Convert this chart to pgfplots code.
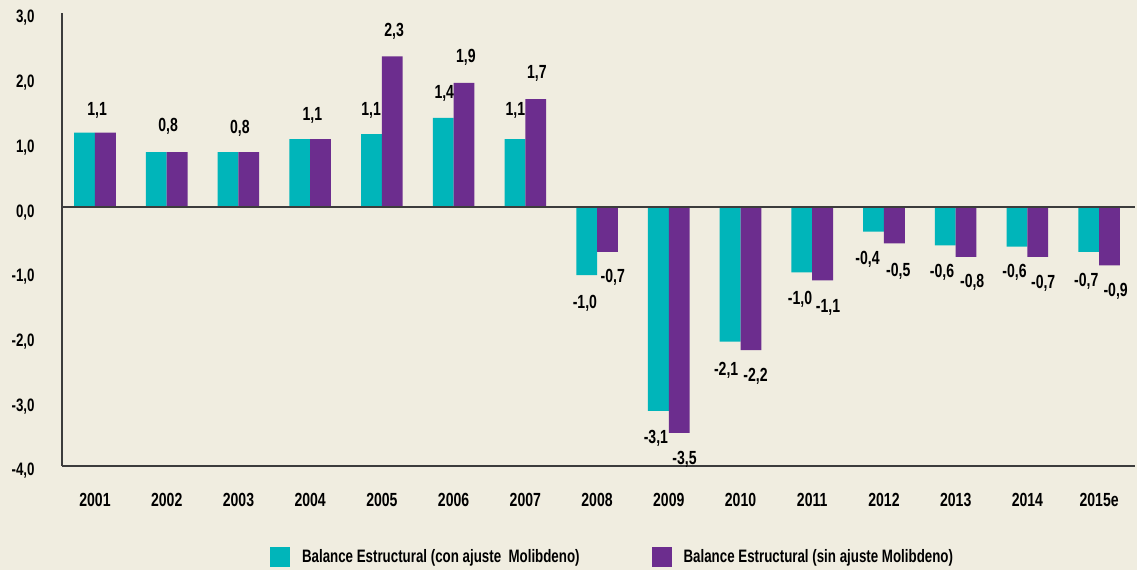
\documentclass[border=0pt]{standalone}
\usepackage{fontspec}
\setmainfont{Liberation Sans}[FakeStretch=0.74]
\usepackage{pgfplots}
\pgfplotsset{compat=1.18}
\usetikzlibrary{backgrounds,calc}
\definecolor{bgc}{RGB}{240,237,224}
\definecolor{tealc}{RGB}{0,181,186}
\definecolor{purc}{RGB}{108,45,142}
\definecolor{axc}{RGB}{60,60,60}

\pgfplotstableread{
x y
0 1.15
1 0.85
2 0.85
3 1.05
4 1.13
5 1.38
6 1.05
7 -1.05
8 -3.15
9 -2.08
10 -1.01
11 -0.38
12 -0.59
13 -0.61
14 -0.69
}\conajuste

\pgfplotstableread{
x y
0 1.15
1 0.85
2 0.85
3 1.05
4 2.33
5 1.92
6 1.67
7 -0.69
8 -3.49
9 -2.21
10 -1.13
11 -0.56
12 -0.77
13 -0.77
14 -0.90
}\sinajuste

% label positions (centre of each value label)
\pgfplotstableread{
x y label
0.03 1.50 {1,1}
1.02 1.25 {0,8}
2.02 1.22 {0,8}
3.03 1.42 {1,1}
3.85 1.50 {1,1}
4.17 2.72 {2,3}
4.87 1.76 {1,4}
5.17 2.32 {1,9}
5.86 1.50 {1,1}
6.16 2.07 {1,7}
6.83 -1.49 {-1,0}
7.22 -1.08 {-0,7}
7.82 -3.58 {-3,1}
8.22 -3.90 {-3,5}
8.80 -2.52 {-2,1}
9.21 -2.62 {-2,2}
9.83 -1.42 {-1,0}
10.22 -1.55 {-1,1}
10.77 -0.80 {-0,4}
11.20 -0.99 {-0,5}
11.81 -1.00 {-0,6}
12.23 -1.16 {-0,8}
12.82 -1.00 {-0,6}
13.22 -1.18 {-0,7}
13.82 -1.15 {-0,7}
14.23 -1.30 {-0,9}
}\etiquetas

\begin{document}
\begin{tikzpicture}[font=\bfseries]
\begin{axis}[
    name=ax,
    scale only axis,
    width=536.5pt, height=226.5pt,
    xmin=-0.46, xmax=14.5,
    ymin=-4, ymax=3,
    axis x line=bottom, axis y line=left,
    axis line style={axc, line width=0.8pt, -},
    major tick length=0pt,
    xtick={0,...,14},
    xticklabels={2001,2002,2003,2004,2005,2006,2007,2008,2009,2010,2011,2012,2013,2014,2015e},
    xticklabel style={anchor=center, inner sep=0pt, yshift=-17pt, font=\bfseries\fontsize{9.5}{10}\selectfont},
    ytick={-4,-3,-2,-1,0,1,2,3},
    yticklabels={{-4,0},{-3,0},{-2,0},{-1,0},{0,0},{1,0},{2,0},{3,0}},
    yticklabel style={anchor=east, inner sep=0pt, xshift=-13.5pt, yshift=-2.5pt, font=\bfseries\fontsize{9}{10}\selectfont},
    bar width=0.29,
    clip=false,
    legend style={at={(0.514,-0.201)}, anchor=center, draw=none, fill=none,
        legend columns=2, font=\bfseries\fontsize{9}{10}\selectfont,
        /tikz/every even column/.append style={column sep=34pt}},
    legend image code/.code={\fill[#1] (0pt,-5pt) rectangle (10pt,5pt);},
    legend cell align=left,
]
\addplot[ybar, bar shift=-0.145, fill=tealc, draw=none] table[x=x, y=y] {\conajuste};
\addlegendentry{\hspace{4pt}Balance Estructural (con ajuste\ \ Molibdeno)}
\addplot[ybar, bar shift=0.145, fill=purc, draw=none] table[x=x, y=y] {\sinajuste};
\addlegendentry{\hspace{4pt}Balance Estructural (sin ajuste Molibdeno)}
\draw[axc, line width=0.8pt] (axis cs:-0.46,0) -- (axis cs:14.5,0);
\addplot[draw=none, mark=none, forget plot, nodes near coords,
    point meta=explicit symbolic,
    every node near coord/.append style={anchor=center, inner sep=0pt, font=\bfseries\fontsize{9.5}{10}\selectfont}]
    table[x=x, y=y, meta=label] {\etiquetas};
\end{axis}
\begin{pgfonlayer}{background}
\fill[bgc] ($(ax.south west)+(-31pt,-52pt)$) rectangle ($(ax.north east)+(1pt,6.5pt)$);
\end{pgfonlayer}
\end{tikzpicture}
\end{document}
